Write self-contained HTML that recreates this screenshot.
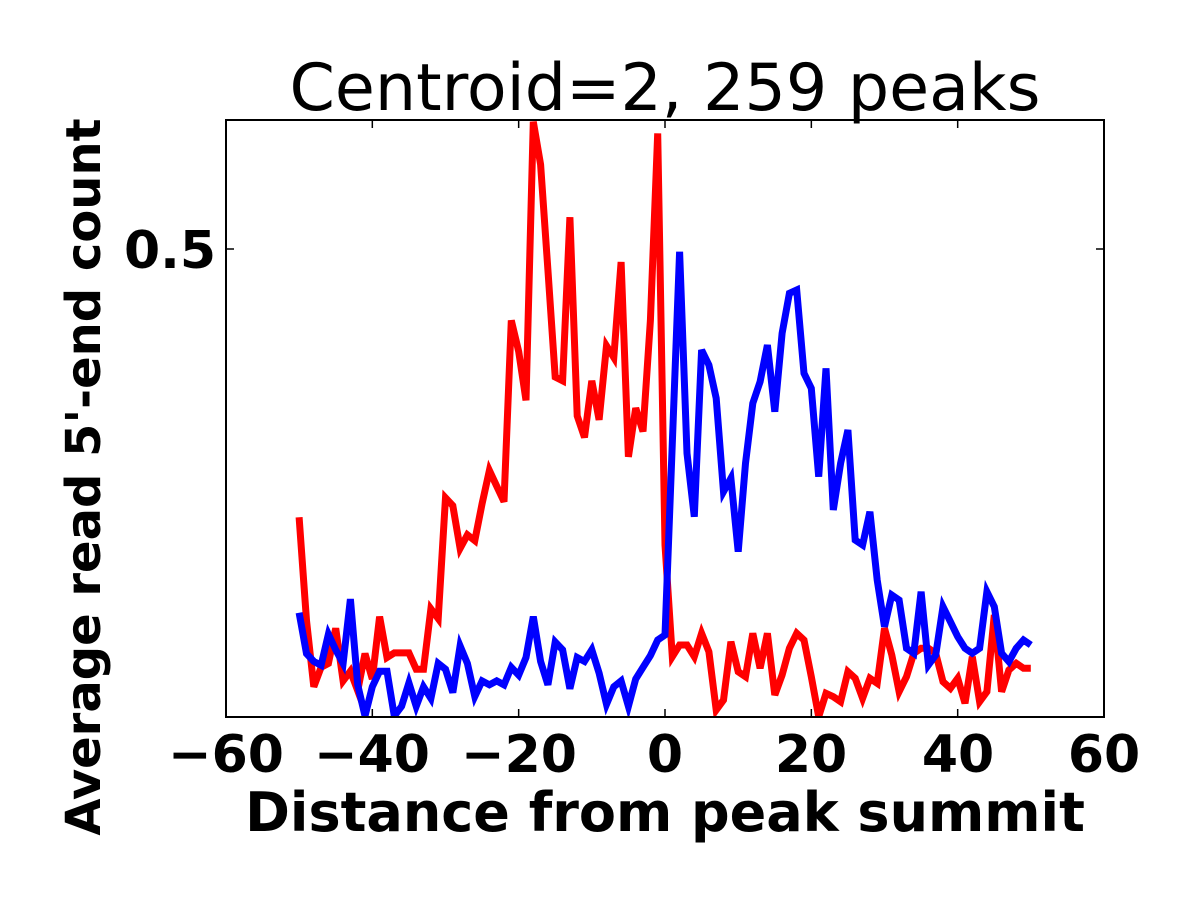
<!DOCTYPE html>
<html><head><meta charset="utf-8"><style>body{margin:0;background:#fff}</style></head><body>
<svg id="s" width="1200" height="900" xmlns="http://www.w3.org/2000/svg" font-family="DejaVu Sans, sans-serif">
<rect width="1200" height="900" fill="#fff"/>
<defs><clipPath id="c"><rect x="226" y="120" width="878" height="597"/></clipPath></defs>
<g clip-path="url(#c)" fill="none" stroke-width="7" stroke-linejoin="miter">
<polyline id="red" stroke="#ff0000"/>
<polyline id="blue" stroke="#0000ff"/>
</g>
<rect x="226" y="120" width="878" height="597" fill="none" stroke="#000" stroke-width="2"/>
<g id="ticks" stroke="#000" stroke-width="1.5"></g>
<g font-weight="bold" font-size="52" text-anchor="middle">
<text x="226" y="772">−60</text><text x="372" y="772">−40</text><text x="519" y="772">−20</text>
<text x="665" y="772">0</text><text x="811" y="772">20</text><text x="958" y="772">40</text><text x="1104" y="772">60</text>
<text x="170" y="268">0.5</text>
</g>
<text x="665" y="831" font-weight="bold" font-size="54" text-anchor="middle">Distance from peak summit</text>
<text transform="translate(100,477) rotate(-90)" font-weight="bold" font-size="48" text-anchor="middle">Average read 5'-end count</text>
<text x="665" y="110" font-size="65" text-anchor="middle">Centroid=2, 259 peaks</text>
</svg>
<script>
var s1=[1045,1310,1480,1430,1420,1330,1465,1440,1490,1395,1460,1300,1405,1393,1393,1393,1435,1435,1280,1305,995,1015,1125,1090,1105,1010,925,965,1005,540,620,745,30,140,410,685,695,275,785,840,695,795,605,635,390,890,765,825,540,60].map(v=>v/2.566+110);
var s2=[945,1280,1245,1245,1280,1210,1265,1440,1410,1235,1325,1340,1210,1315,1210,1395,1335,1255,1210,1230,1340,1460,1390,1400,1415,1325,1345,1405,1345,1360,1195,1275,1385,1340,1270,1255,1255,1270,1355,1375,1345,1420,1280,1415,1385,1155,1385,1320,1300,1315,1315].map(v=>v/3+230);
var b1=[1290,1395,1415,1425,1345,1385,1420,1255,1475,1555,1480,1440,1440,1555,1530,1470,1530,1480,1510,1420,1435,1495,1375,1420,1505,1465,1475,1465,1475,1430,1450,1405,1300,1415,1475,1365,1385,1485,1405,1415,1385,1445,1525,1480,1465,1530,1460,1430,1400,1360].map(v=>v/2.566+110);
var b2=[1215,640,65,670,860,360,405,505,785,745,965,700,520,455,345,545,310,190,180,430,475,740,415,840,700,600,930,945,845,1050,1190,1095,1110,1255,1270,1085,1305,1275,1130,1175,1220,1255,1270,1255,1085,1130,1270,1295,1255,1230,1245].map(v=>v/3+230);
function pts(a){return a.map((y,i)=>(665+(i-50)*7.317).toFixed(1)+","+y.toFixed(1)).join(" ");}
document.getElementById("red").setAttribute("points",pts(s1.concat(s2)));
document.getElementById("blue").setAttribute("points",pts(b1.concat(b2)));
var g=document.getElementById("ticks"),h="";
for(var v=-60;v<=60;v+=20){var x=665+v*7.317;h+=`<line x1="${x}" y1="717" x2="${x}" y2="709"/><line x1="${x}" y1="120" x2="${x}" y2="128"/>`;}
h+=`<line x1="226" y1="249" x2="234" y2="249"/><line x1="1104" y1="249" x2="1096" y2="249"/>`;
g.innerHTML=h;
</script>
</body></html>
